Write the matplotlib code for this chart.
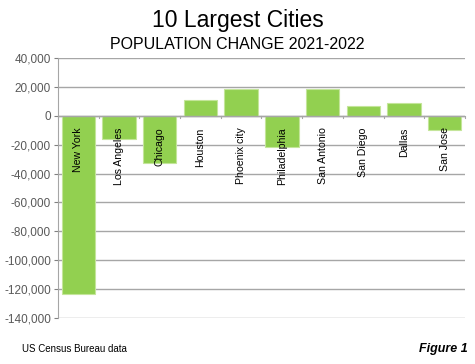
import matplotlib
matplotlib.use('Agg')
import matplotlib.pyplot as plt
from matplotlib.ticker import FuncFormatter, MultipleLocator

plt.rcParams['font.family'] = ['Liberation Sans', 'DejaVu Sans']

cities = ['New York', 'Los Angeles', 'Chicago', 'Houston', 'Phoenix city',
          'Philadelphia', 'San Antonio', 'San Diego', 'Dallas', 'San Jose']
change = [-123000, -16000, -32800, 10900, 18700,
          -21900, 18700, 6900, 8800, -9900]

fig = plt.figure(figsize=(4.75, 3.64), dpi=100)
ax = fig.add_axes([0.122, 0.126, 0.857, 0.715])

x = range(len(cities))
ax.bar(x, change, width=0.82, color='#92D050', edgecolor='#C4E59A',
       linewidth=0.8, zorder=2)

ax.set_xlim(-0.5, len(cities) - 0.5)
ax.set_ylim(-140000, 40000)
ax.yaxis.set_major_locator(MultipleLocator(20000))
ax.yaxis.set_major_formatter(FuncFormatter(lambda v, p: f'{int(v):,}'))
ax.tick_params(axis='y', labelsize=8.5, colors='#808080', labelcolor='#595959',
               length=3, width=0.8, pad=2)
ax.grid(axis='y', color='#A6A6A6', linewidth=1, zorder=0)

for s in ['top', 'right', 'bottom']:
    ax.spines[s].set_visible(False)
ax.spines['left'].set_color('#A6A6A6')

ax.set_xticks([])
# zero line with category tick marks
ax.axhline(0, color='#A6A6A6', linewidth=1, zorder=3)
for b in range(len(cities) + 1):
    ax.plot([b - 0.5, b - 0.5], [0, -1800], color='#A6A6A6', lw=0.8,
            zorder=3, clip_on=False)

for i, name in enumerate(cities):
    ax.text(i, -8000, name, rotation=90, ha='center', va='top',
            fontsize=7.6, color='black', zorder=4,
            family=['Liberation Sans Narrow', 'Liberation Sans'])

fig.text(0.5, 0.943, '10 Largest Cities', ha='center', va='center', fontsize=16.5)
fig.text(0.5, 0.877, 'POPULATION CHANGE 2021-2022', ha='center', va='center',
         fontsize=11.5)
fig.text(0.046, 0.04, 'US Census Bureau data', ha='left', va='center',
         fontsize=7)
fig.text(0.985, 0.04, 'Figure 1', ha='right', va='center', fontsize=9,
         fontweight='bold', style='italic')

fig.savefig('out.png', dpi=100)
